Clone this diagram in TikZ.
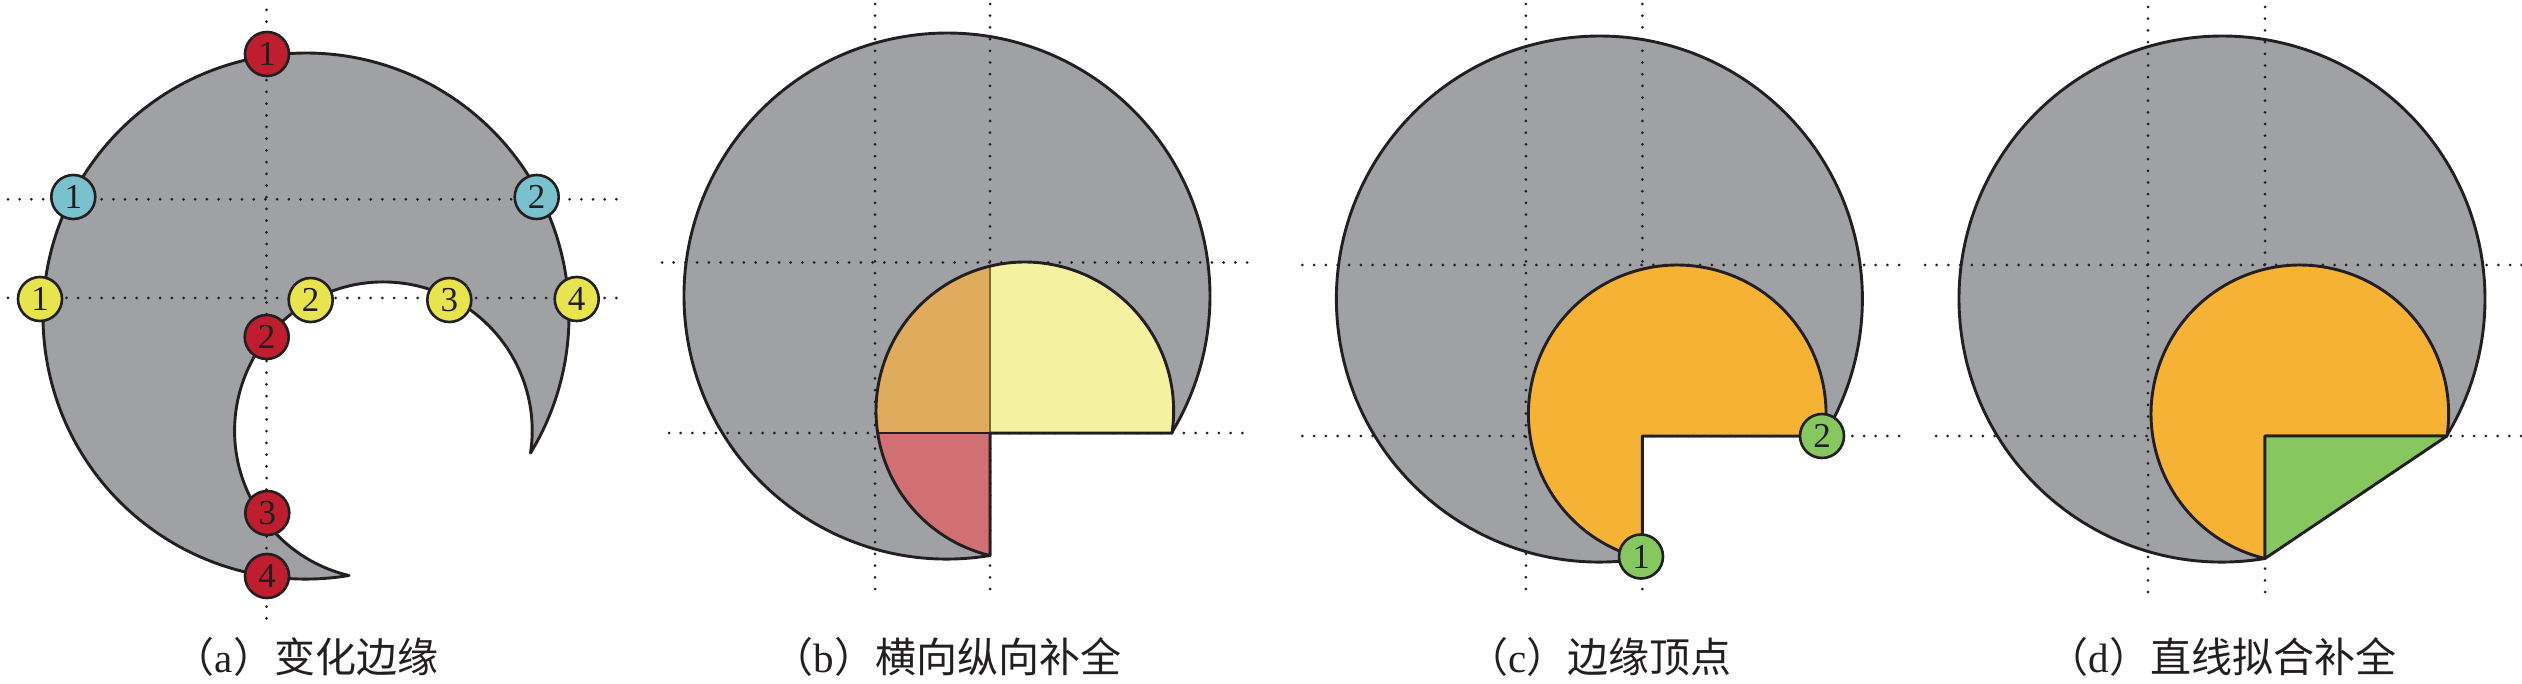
\documentclass[tikz,border=0pt]{standalone}
\usepackage{fontspec}
\setmainfont{Liberation Serif}
\newfontfamily\cjk{Noto Sans CJK SC}
\definecolor{grayfill}{RGB}{160,161,165}
\definecolor{outline}{RGB}{35,31,32}
\definecolor{mred}{RGB}{190,30,45}
\definecolor{mcyan}{RGB}{122,193,206}
\definecolor{myellow}{RGB}{232,228,80}
\definecolor{mgreen}{RGB}{135,199,95}
\definecolor{morange}{RGB}{245,178,52}
\definecolor{byellow}{RGB}{244,242,160}
\definecolor{borange}{RGB}{222,172,92}
\definecolor{bred}{RGB}{208,112,117}
\definecolor{bseam}{RGB}{120,105,60}
\tikzset{
  shapeline/.style={draw=outline, line width=2.9pt, line join=round},
  guide/.style={draw=outline, line width=3pt, dash pattern=on 0pt off 11.7pt, line cap=round},
  marker/.style={circle, draw=outline, line width=2.6pt, minimum size=44pt, inner sep=0pt,
                 font=\fontsize{35}{35}\selectfont, text=outline},
  captext/.style={font=\fontsize{41}{41}\selectfont, anchor=base, inner sep=0pt, text=outline},
}
\begin{document}
\begin{tikzpicture}[x=1pt,y=-1pt]
\useasboundingbox (0,0) rectangle (2522,684);

% ---------------- panel (a)
\begin{scope}[shift={(306,316)}]
  \filldraw[fill=grayfill, shapeline] (43,259.5)
    arc[start angle=80.59, end angle=391.39, radius=263]
    arc[start angle=8.61, end angle=-256.46, radius=148.8] -- cycle;
  \draw[guide] (-39.5,-306) -- (-39.5,306);
  \draw[guide] (-298,-116.7) -- (314,-116.7);
  \draw[guide] (-298,-18) -- (314,-18);
  \node[marker, fill=mred] (ar1) at (-39,-262) {1};
  \node[marker, fill=mred] (ar2) at (-39.3,21) {2};
  \node[marker, fill=mred] (ar3) at (-38.7,197) {3};
  \node[marker, fill=mred] (ar4) at (-39,260) {4};
  \node[marker, fill=mcyan] (ac1) at (-232.7,-119) {1};
  \node[marker, fill=mcyan] (ac2) at (230.7,-119) {2};
  \node[marker, fill=myellow] (ay1) at (-266,-17) {1};
  \node[marker, fill=myellow] (ay2) at (4.7,-16) {2};
  \node[marker, fill=myellow] (ay3) at (143.3,-16) {3};
  \node[marker, fill=myellow] (ay4) at (270.7,-17) {4};
  \node[captext] (capa) at (0,356) {{\cjk （}a{\cjk ）变化边缘}};
\end{scope}

% ---------------- panel (b)
\begin{scope}[shift={(947,296)}]
  \filldraw[fill=grayfill, shapeline] (43,259.5)
    arc[start angle=80.59, end angle=391.39, radius=263] -- (43,137) -- cycle;
  \draw[guide] (-72,-292) -- (-72,300);
  \draw[guide] (43,-292) -- (43,300);
  \draw[guide] (-285,-33.5) -- (301,-33.5);
  \draw[guide] (-278,137) -- (297,137);
  \fill[byellow] (43,-29.86) arc[start angle=256.46, end angle=368.58, radius=148.8] -- (43,137) -- cycle;
  \fill[borange] (43,-29.86) arc[start angle=256.46, end angle=171.42, radius=148.8] -- (43,137) -- cycle;
  \fill[bred] (-69.28,137) arc[start angle=171.42, end angle=103.54, radius=148.8] -- (43,137) -- cycle;
  \draw[bseam, line width=1.2pt] (43,-29.86) -- (43,137);
  \draw[shapeline] (43,259.5) arc[start angle=103.54, end angle=368.58, radius=148.8] -- (43,137) -- cycle;
  \draw[shapeline] (-69.28,137) -- (43,137);
  \node[captext] (capb) at (0,376) {{\cjk （}b{\cjk ）横向纵向补全}};
\end{scope}

% ---------------- panel (c)
\begin{scope}[shift={(1599.4,299)}]
  \filldraw[fill=grayfill, shapeline] (43,259.5)
    arc[start angle=80.59, end angle=391.39, radius=263] -- (43,137) -- cycle;
  \draw[guide] (-73.5,-295) -- (-73.5,290);
  \draw[guide] (43,-295) -- (43,290);
  \draw[guide] (-297,-34) -- (301,-34);
  \draw[guide] (-297,137) -- (301,137);
  \filldraw[fill=morange, shapeline] (43,259.5) arc[start angle=103.54, end angle=368.58, radius=148.8] -- (43,137) -- cycle;
  \node[marker, fill=mgreen] (cg1) at (41.6,257.5) {1};
  \node[marker, fill=mgreen] (cg2) at (222.6,137) {2};
  \node[captext] (capc) at (0,373) {{\cjk （}c{\cjk ）边缘顶点}};
\end{scope}

% ---------------- panel (d)
\begin{scope}[shift={(2222,299)}]
  \filldraw[fill=grayfill, shapeline] (43,259.5)
    arc[start angle=80.59, end angle=391.39, radius=263] -- (43,137) -- cycle;
  \draw[guide] (-74,-292) -- (-74,293);
  \draw[guide] (43,-292) -- (43,293);
  \draw[guide] (-297,-34) -- (300,-34);
  \draw[guide] (-286,137) -- (300,137);
  \filldraw[fill=morange, shapeline] (43,259.5) arc[start angle=103.54, end angle=368.58, radius=148.8] -- (43,137) -- cycle;
  \filldraw[fill=mgreen, shapeline] (43,137) -- (224.96,137.04) -- (43,259.5) -- cycle;
  \node[captext] (capd) at (0,373) {{\cjk （}d{\cjk ）直线拟合补全}};
\end{scope}
\end{tikzpicture}
\end{document}
